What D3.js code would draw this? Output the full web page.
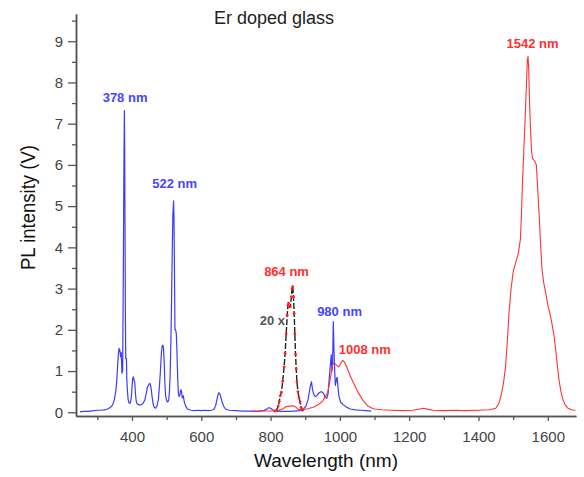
<!DOCTYPE html>
<html><head><meta charset="utf-8">
<script src="https://cdn.jsdelivr.net/npm/d3@7"></script>
<style>body{margin:0;background:#fff}text{font-family:"Liberation Sans",Arial,sans-serif}</style>
</head><body>
<svg id="c" width="584" height="477"></svg>
<script>
// Blue: visible upconversion spectrum
const blueWavelength = [250,260,270,280,290,300,310,320,330,338,344,349,353,356,359,361,363,365,367,369,371,373,375,376,377,378,379,380,381,382,384,385,387,389,392,395,398,400,402,404,406,408,410,412,415,420,426,432,437,441,445,449,452,455,458,461,464,468,472,476,479,482,485,487,489,491,493,495,497,500,503,506,508,510,512,514,516,518,520,521,522,523,524,526,528,530,532,534,536,538,541,543,545,548,551,555,560,570,580,590,600,610,620,630,637,642,646,650,653,656,660,665,670,680,700,720,740,760,780,788,794,800,806,815,830,850,870,885,895,902,908,912,915,918,921,925,929,935,941,947,952,957,962,966,969,972,975,977,979,981,983,985,987,990,992,994,997,1002,1010,1020,1030,1045,1060,1075,1090];
const blueIntensity = [0.01,0.02,0.02,0.03,0.04,0.05,0.05,0.06,0.08,0.12,0.18,0.3,0.5,0.75,1.2,1.45,1.55,1.5,1.35,1.45,0.95,1.0,3.4,5.0,6.25,7.32,6.25,4.3,2.2,1.3,1.3,0.8,0.5,0.3,0.22,0.22,0.35,0.6,0.82,0.86,0.78,0.72,0.45,0.28,0.2,0.18,0.18,0.22,0.3,0.45,0.62,0.68,0.7,0.6,0.38,0.2,0.12,0.1,0.15,0.3,0.6,1.0,1.45,1.6,1.63,1.55,1.2,0.7,0.4,0.28,0.25,0.3,0.5,0.9,1.6,2.6,3.8,4.8,5.13,4.8,4.0,3.0,2.0,2.0,1.9,1.4,0.8,0.45,0.38,0.42,0.55,0.5,0.35,0.4,0.25,0.15,0.08,0.05,0.04,0.05,0.04,0.05,0.04,0.05,0.08,0.18,0.35,0.47,0.46,0.38,0.25,0.14,0.08,0.05,0.04,0.03,0.03,0.03,0.04,0.07,0.11,0.1,0.06,0.03,0.02,0.02,0.03,0.04,0.08,0.15,0.3,0.5,0.65,0.74,0.55,0.42,0.38,0.42,0.48,0.5,0.47,0.38,0.34,0.45,0.8,1.1,1.4,1.0,1.2,2.2,1.5,1.0,0.65,0.8,0.85,0.65,0.4,0.25,0.18,0.12,0.08,0.06,0.05,0.04,0.03];

// Red: near-infrared spectrum
const redWavelength = [745,760,780,800,820,835,845,855,865,872,880,895,910,925,940,950,958,965,970,975,979,983,990,997,1003,1008,1013,1020,1030,1040,1050,1060,1070,1080,1090,1100,1120,1150,1180,1210,1230,1242,1255,1270,1300,1330,1360,1400,1430,1450,1458,1465,1472,1478,1483,1488,1494,1500,1508,1515,1521,1524,1527,1531,1535,1539,1541,1543,1545,1547,1550,1553,1556,1562,1567,1571,1575,1579,1583,1588,1594,1600,1606,1612,1618,1623,1628,1633,1638,1644,1650,1658,1668,1680];
const redIntensity = [0.03,0.02,0.03,0.03,0.04,0.08,0.14,0.15,0.16,0.13,0.07,0.06,0.09,0.13,0.2,0.27,0.38,0.5,0.7,0.95,1.15,1.2,1.15,1.1,1.2,1.26,1.22,1.1,0.88,0.7,0.52,0.38,0.25,0.16,0.11,0.08,0.06,0.05,0.04,0.05,0.08,0.1,0.07,0.05,0.04,0.05,0.04,0.05,0.06,0.1,0.2,0.4,0.7,1.1,1.7,2.4,3.0,3.4,3.65,3.86,4.2,4.8,5.6,6.4,7.2,8.1,8.55,8.63,8.3,7.6,6.9,6.35,6.15,6.1,6.0,5.4,4.8,4.1,3.5,3.15,2.9,2.6,2.4,2.15,1.85,1.5,1.1,0.75,0.5,0.3,0.18,0.1,0.06,0.05];

// 864 nm band (x20)
const band864Wavelength = [812,818,822,825,828,831,835,839,842,845,848,850,852,854,857,860,862,864,866,868,870,872,874,876,879,882,885,888,892];
const band864Intensity = [0.03,0.06,0.15,0.26,0.4,0.48,0.75,1.1,1.43,1.9,2.35,2.6,2.65,2.56,2.56,2.8,3.0,3.05,2.8,2.4,1.9,1.4,1.05,0.74,0.5,0.35,0.25,0.12,0.05];

const xMajorTicks = [400,600,800,1000,1200,1400,1600];
const xMinorTicks = [300,500,700,900,1100,1300,1500];
const yMajorTicks = [0,1,2,3,4,5,6,7,8,9];
const yMinorTicks = [0.5,1.5,2.5,3.5,4.5,5.5,6.5,7.5,8.5,9.5];

const peakLabels = ["378 nm","522 nm","864 nm","980 nm","1008 nm","1542 nm"];
const peakLabelWavelength = [380,523,846,999,1072,1556];
const peakLabelIntensity = [7.53,5.44,3.31,2.34,1.41,8.84];
const peakLabelSeries = ["blue","blue","red","blue","red","red"];

const svg = d3.select("#c");
const x = d3.scaleLinear().domain([238.4, 1681.4]).range([76, 576]);
const y = d3.scaleLinear().domain([-0.09, 9.66]).range([416, 14]);

const BLUE = "#3c3cff", RED = "#ff3333", AXIS = "#555";

// axes
function styleAxis(g){
  g.select(".domain").attr("stroke", AXIS).attr("stroke-width", 1.5);
  g.selectAll(".tick line").attr("stroke", AXIS).attr("stroke-width", 1.3);
  g.selectAll(".tick text").attr("fill", "#444").attr("font-size", 15)
    .attr("font-family", '"Liberation Sans",Arial,sans-serif');
}
svg.append("g").attr("transform", "translate(0,416)")
  .call(d3.axisBottom(x).tickValues(xMinorTicks).tickSize(4).tickSizeOuter(0).tickFormat(""))
  .call(styleAxis);
svg.append("g").attr("transform", "translate(0,416)")
  .call(d3.axisBottom(x).tickValues(xMajorTicks).tickSize(5).tickSizeOuter(0).tickPadding(10).tickFormat(d3.format("d")))
  .call(styleAxis);
svg.append("g").attr("transform", "translate(76,0)")
  .call(d3.axisLeft(y).tickValues(yMinorTicks).tickSize(4).tickSizeOuter(0).tickFormat(""))
  .call(styleAxis);
svg.append("g").attr("transform", "translate(76,0)")
  .call(d3.axisLeft(y).tickValues(yMajorTicks).tickSize(8).tickSizeOuter(0).tickPadding(5).tickFormat(d3.format("d")))
  .call(styleAxis);

// series
const line = d3.line().x(d => x(d[0])).y(d => y(d[1]));
const blue = d3.zip(blueWavelength, blueIntensity);
const red = d3.zip(redWavelength, redIntensity);
const band = d3.zip(band864Wavelength, band864Intensity);

svg.append("path").datum(blue).attr("d", line).attr("fill", "none")
  .attr("stroke", BLUE).attr("stroke-width", 1.2).attr("stroke-linejoin", "round");
svg.append("path").datum(red).attr("d", line).attr("fill", "none")
  .attr("stroke", RED).attr("stroke-width", 1.1).attr("stroke-linejoin", "round");
svg.append("path").datum(band).attr("d", line).attr("fill", "none")
  .attr("stroke", "#222").attr("stroke-width", 1.4).attr("stroke-dasharray", "6,2");
svg.append("g").selectAll("circle").data(band).join("circle")
  .attr("cx", d => x(d[0])).attr("cy", d => y(d[1])).attr("r", 1.4).attr("fill", "#ff2020");

// peak labels
svg.append("g").selectAll("text").data(peakLabels).join("text")
  .attr("x", (d, i) => x(peakLabelWavelength[i]))
  .attr("y", (d, i) => y(peakLabelIntensity[i]))
  .attr("text-anchor", "middle").attr("font-size", 13).attr("font-weight", "bold")
  .attr("fill", (d, i) => peakLabelSeries[i] === "blue" ? "#4646ff" : "#ff3030")
  .text(d => d);

svg.append("text").attr("x", 285).attr("y", 325).attr("text-anchor", "end")
  .attr("font-size", 13).attr("font-weight", "bold").attr("fill", "#555").text("20 x");

// titles
svg.append("text").attr("x", 274).attr("y", 24).attr("text-anchor", "middle")
  .attr("font-size", 18).attr("fill", "#222").text("Er doped glass");
svg.append("text").attr("x", 326).attr("y", 467).attr("text-anchor", "middle")
  .attr("font-size", 19).attr("fill", "#111").text("Wavelength (nm)");
svg.append("text").attr("transform", "translate(35,207.5) rotate(-90)")
  .attr("text-anchor", "middle").attr("font-size", 21).attr("fill", "#111")
  .attr("textLength", 125).attr("lengthAdjust", "spacingAndGlyphs")
  .text("PL intensity (V)");
</script>
</body></html>
